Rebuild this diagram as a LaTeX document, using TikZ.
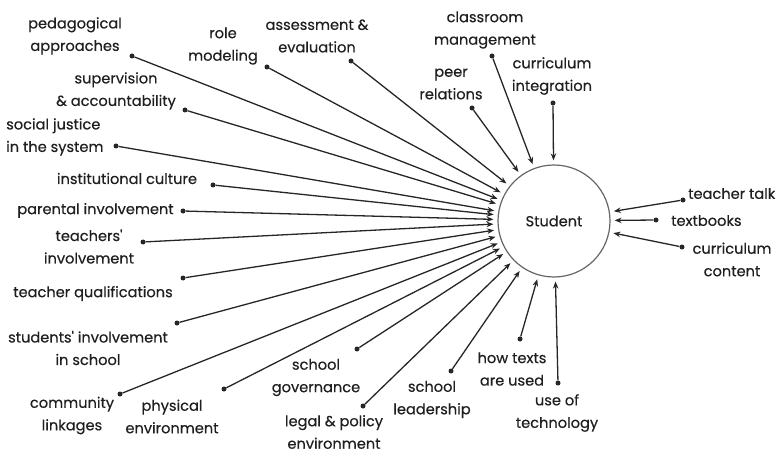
\documentclass[tikz,border=0pt]{standalone}
\usepackage{fontspec}
\setmainfont{Poppins}[FakeBold=0.4]
\usetikzlibrary{arrows.meta}
\begin{document}
\begin{tikzpicture}[x=1pt,y=-1pt,
 lbl/.style={align=center, font=\fontsize{14.6}{22.5}\selectfont, inner sep=0pt, text=black!88},
 dot/.style={circle, fill=black!85, inner sep=0pt, minimum size=5pt},
 arr/.style={line width=1.3pt, draw=black!85, -{Stealth[length=7pt,width=5.5pt]}, shorten >=4pt},
]
\useasboundingbox (0,0) rectangle (783,454);
\node[circle, draw=black!60, line width=1.2pt, minimum size=112pt, inner sep=0pt, font=\fontsize{14.6}{22.5}\selectfont, text=black!88] (st) at (554,221) {Student};
% labels
\node[lbl] (t1) at (75,36) {pedagogical\\approaches};
\node[lbl] (t2) at (223,46) {role\\modeling};
\node[lbl] (t3) at (317,36) {assessment \&\\evaluation};
\node[lbl] (t4) at (116,91) {supervision\\\& accountability};
\node[lbl, align=left, anchor=west] (t5) at (6,137) {social justice\\in the system};
\node[lbl] (t6) at (127,178.5) {institutional culture};
\node[lbl] (t7) at (95.5,210.5) {parental involvement};
\node[lbl] (t8) at (89,246.5) {teachers\textquotesingle\\involvement};
\node[lbl] (t9) at (93,293.5) {teacher qualifications};
\node[lbl] (t10) at (88,348) {students\textquotesingle{} involvement\\in school};
\node[lbl] (t11) at (72,415.5) {community\\linkages};
\node[lbl] (t12) at (172,416.5) {physical\\environment};
\node[lbl] (t13) at (316,377.5) {school\\governance};
\node[lbl] (t14) at (334,432) {legal \& policy\\environment};
\node[lbl] (t15) at (432,399.5) {school\\leadership};
\node[lbl] (t16) at (512,369) {how texts\\are used};
\node[lbl] (t17) at (557,413) {use of\\technology};
\node[lbl] (t18) at (485,30) {classroom\\management};
\node[lbl] (t19) at (451,84) {peer\\relations};
\node[lbl] (t20) at (552,76) {curriculum\\integration};
\node[lbl, anchor=west] (t21) at (688,193.5) {teacher talk};
\node[lbl, anchor=west] (t22) at (671,220.5) {textbooks};
\node[lbl] (t23) at (732,259.5) {curriculum\\content};
% dots
\node[dot] (d1) at (132,56) {};
\node[dot] (d2) at (267,67) {};
\node[dot] (d3) at (351,61) {};
\node[dot] (d4) at (185,110) {};
\node[dot] (d5) at (116,146) {};
\node[dot] (d6) at (213,185) {};
\node[dot] (d7) at (183,211) {};
\node[dot] (d8) at (143,242) {};
\node[dot] (d9) at (183,278) {};
\node[dot] (d10) at (177,323) {};
\node[dot] (d11) at (120,394) {};
\node[dot] (d12) at (224,389) {};
\node[dot] (d13) at (357,349) {};
\node[dot] (d14) at (363,406) {};
\node[dot] (d15) at (451,371) {};
\node[dot] (d16) at (520,339) {};
\node[dot] (d17) at (558,383) {};
\node[dot] (d18) at (492,56) {};
\node[dot] (d19) at (472,108) {};
\node[dot] (d20) at (553,103) {};
\node[dot] (d21) at (683,200) {};
\node[dot] (d22) at (656,220) {};
\node[dot] (d23) at (682,247) {};
% arrows
\foreach \i in {1,...,23} \draw[arr] (d\i) -- (st);
\end{tikzpicture}
\end{document}
